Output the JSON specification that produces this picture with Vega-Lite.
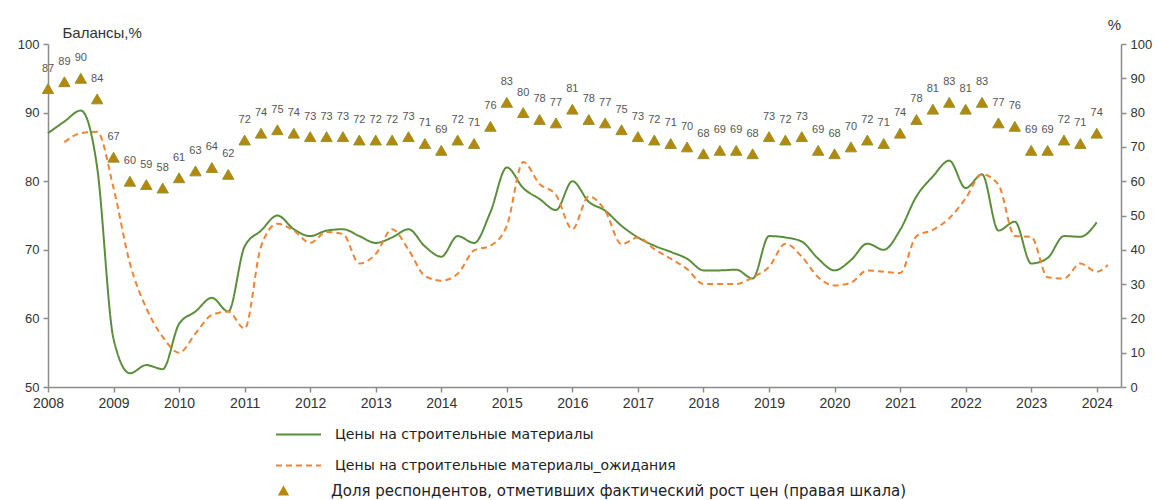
{
  "$schema": "https://vega.github.io/schema/vega-lite/v6.json",
  "width": 1073,
  "height": 343,
  "autosize": {"type": "none"},
  "padding": {"left": 48, "top": 44, "right": 37, "bottom": 113},
  "config": {
    "view": {"stroke": null},
    "font": "Liberation Sans",
    "axis": {"domainColor": "#8c8c8c", "tickColor": "#8c8c8c", "domainWidth": 1.5, "tickWidth": 1.5, "grid": false, "labelColor": "#333333", "labelFontSize": 13, "tickSize": 5, "titleColor": "#333333", "titleFontSize": 15, "titleFontWeight": "normal"},
    "legend": {"labelFont": "DejaVu Sans", "labelFontSize": 14, "labelColor": "#222222", "padding": 0, "labelLimit": 0}
  },
  "datasets": {
    "lines": [
      {"t": 2008.0, "s": "Цены на строительные материалы", "v": 87},
      {"t": 2008.25, "s": "Цены на строительные материалы", "v": 88.7},
      {"t": 2008.5, "s": "Цены на строительные материалы", "v": 90.3},
      {"t": 2008.75, "s": "Цены на строительные материалы", "v": 82},
      {"t": 2009.0, "s": "Цены на строительные материалы", "v": 57},
      {"t": 2009.25, "s": "Цены на строительные материалы", "v": 52},
      {"t": 2009.5, "s": "Цены на строительные материалы", "v": 53.2},
      {"t": 2009.75, "s": "Цены на строительные материалы", "v": 52.6},
      {"t": 2010.0, "s": "Цены на строительные материалы", "v": 59.2},
      {"t": 2010.25, "s": "Цены на строительные материалы", "v": 61},
      {"t": 2010.5, "s": "Цены на строительные материалы", "v": 63},
      {"t": 2010.75, "s": "Цены на строительные материалы", "v": 61},
      {"t": 2011.0, "s": "Цены на строительные материалы", "v": 70.5},
      {"t": 2011.25, "s": "Цены на строительные материалы", "v": 72.8},
      {"t": 2011.5, "s": "Цены на строительные материалы", "v": 75},
      {"t": 2011.75, "s": "Цены на строительные материалы", "v": 73},
      {"t": 2012.0, "s": "Цены на строительные материалы", "v": 72},
      {"t": 2012.25, "s": "Цены на строительные материалы", "v": 72.8},
      {"t": 2012.5, "s": "Цены на строительные материалы", "v": 73},
      {"t": 2012.75, "s": "Цены на строительные материалы", "v": 72},
      {"t": 2013.0, "s": "Цены на строительные материалы", "v": 71},
      {"t": 2013.25, "s": "Цены на строительные материалы", "v": 71.8},
      {"t": 2013.5, "s": "Цены на строительные материалы", "v": 73},
      {"t": 2013.75, "s": "Цены на строительные материалы", "v": 70.5},
      {"t": 2014.0, "s": "Цены на строительные материалы", "v": 69},
      {"t": 2014.25, "s": "Цены на строительные материалы", "v": 72},
      {"t": 2014.5, "s": "Цены на строительные материалы", "v": 71},
      {"t": 2014.75, "s": "Цены на строительные материалы", "v": 75.5},
      {"t": 2015.0, "s": "Цены на строительные материалы", "v": 82},
      {"t": 2015.25, "s": "Цены на строительные материалы", "v": 79},
      {"t": 2015.5, "s": "Цены на строительные материалы", "v": 77.4},
      {"t": 2015.75, "s": "Цены на строительные материалы", "v": 75.8},
      {"t": 2016.0, "s": "Цены на строительные материалы", "v": 80},
      {"t": 2016.25, "s": "Цены на строительные материалы", "v": 77},
      {"t": 2016.5, "s": "Цены на строительные материалы", "v": 75.7},
      {"t": 2016.75, "s": "Цены на строительные материалы", "v": 73.5},
      {"t": 2017.0, "s": "Цены на строительные материалы", "v": 71.8},
      {"t": 2017.25, "s": "Цены на строительные материалы", "v": 70.6},
      {"t": 2017.5, "s": "Цены на строительные материалы", "v": 69.7},
      {"t": 2017.75, "s": "Цены на строительные материалы", "v": 68.7},
      {"t": 2018.0, "s": "Цены на строительные материалы", "v": 67},
      {"t": 2018.25, "s": "Цены на строительные материалы", "v": 67},
      {"t": 2018.5, "s": "Цены на строительные материалы", "v": 67.1},
      {"t": 2018.75, "s": "Цены на строительные материалы", "v": 65.8},
      {"t": 2019.0, "s": "Цены на строительные материалы", "v": 72},
      {"t": 2019.25, "s": "Цены на строительные материалы", "v": 71.8},
      {"t": 2019.5, "s": "Цены на строительные материалы", "v": 71.2},
      {"t": 2019.75, "s": "Цены на строительные материалы", "v": 68.7},
      {"t": 2020.0, "s": "Цены на строительные материалы", "v": 67},
      {"t": 2020.25, "s": "Цены на строительные материалы", "v": 68.5},
      {"t": 2020.5, "s": "Цены на строительные материалы", "v": 70.9},
      {"t": 2020.75, "s": "Цены на строительные материалы", "v": 70},
      {"t": 2021.0, "s": "Цены на строительные материалы", "v": 72.9},
      {"t": 2021.25, "s": "Цены на строительные материалы", "v": 77.8},
      {"t": 2021.5, "s": "Цены на строительные материалы", "v": 80.7},
      {"t": 2021.75, "s": "Цены на строительные материалы", "v": 83},
      {"t": 2022.0, "s": "Цены на строительные материалы", "v": 79},
      {"t": 2022.25, "s": "Цены на строительные материалы", "v": 81},
      {"t": 2022.5, "s": "Цены на строительные материалы", "v": 72.8},
      {"t": 2022.75, "s": "Цены на строительные материалы", "v": 74.1},
      {"t": 2023.0, "s": "Цены на строительные материалы", "v": 68},
      {"t": 2023.25, "s": "Цены на строительные материалы", "v": 68.8},
      {"t": 2023.5, "s": "Цены на строительные материалы", "v": 72},
      {"t": 2023.75, "s": "Цены на строительные материалы", "v": 71.9},
      {"t": 2024.0, "s": "Цены на строительные материалы", "v": 74},
      {"t": 2008.25, "s": "Цены на строительные материалы_ожидания", "v": 85.7},
      {"t": 2008.5, "s": "Цены на строительные материалы_ожидания", "v": 87},
      {"t": 2008.75, "s": "Цены на строительные материалы_ожидания", "v": 87.2},
      {"t": 2009.0, "s": "Цены на строительные материалы_ожидания", "v": 79},
      {"t": 2009.25, "s": "Цены на строительные материалы_ожидания", "v": 68},
      {"t": 2009.5, "s": "Цены на строительные материалы_ожидания", "v": 61.5},
      {"t": 2009.75, "s": "Цены на строительные материалы_ожидания", "v": 57.3},
      {"t": 2010.0, "s": "Цены на строительные материалы_ожидания", "v": 55},
      {"t": 2010.25, "s": "Цены на строительные материалы_ожидания", "v": 57.8},
      {"t": 2010.5, "s": "Цены на строительные материалы_ожидания", "v": 60.5},
      {"t": 2010.75, "s": "Цены на строительные материалы_ожидания", "v": 61},
      {"t": 2011.0, "s": "Цены на строительные материалы_ожидания", "v": 58.5},
      {"t": 2011.25, "s": "Цены на строительные материалы_ожидания", "v": 70.5},
      {"t": 2011.5, "s": "Цены на строительные материалы_ожидания", "v": 73.8},
      {"t": 2011.75, "s": "Цены на строительные материалы_ожидания", "v": 72.8},
      {"t": 2012.0, "s": "Цены на строительные материалы_ожидания", "v": 71},
      {"t": 2012.25, "s": "Цены на строительные материалы_ожидания", "v": 72.6},
      {"t": 2012.5, "s": "Цены на строительные материалы_ожидания", "v": 72.3},
      {"t": 2012.75, "s": "Цены на строительные материалы_ожидания", "v": 68},
      {"t": 2013.0, "s": "Цены на строительные материалы_ожидания", "v": 69.4},
      {"t": 2013.25, "s": "Цены на строительные материалы_ожидания", "v": 73},
      {"t": 2013.5, "s": "Цены на строительные материалы_ожидания", "v": 70},
      {"t": 2013.75, "s": "Цены на строительные материалы_ожидания", "v": 66.2},
      {"t": 2014.0, "s": "Цены на строительные материалы_ожидания", "v": 65.5},
      {"t": 2014.25, "s": "Цены на строительные материалы_ожидания", "v": 66.5},
      {"t": 2014.5, "s": "Цены на строительные материалы_ожидания", "v": 69.9},
      {"t": 2014.75, "s": "Цены на строительные материалы_ожидания", "v": 70.6},
      {"t": 2015.0, "s": "Цены на строительные материалы_ожидания", "v": 73.5},
      {"t": 2015.25, "s": "Цены на строительные материалы_ожидания", "v": 82.8},
      {"t": 2015.5, "s": "Цены на строительные материалы_ожидания", "v": 79.6},
      {"t": 2015.75, "s": "Цены на строительные материалы_ожидания", "v": 78},
      {"t": 2016.0, "s": "Цены на строительные материалы_ожидания", "v": 73},
      {"t": 2016.25, "s": "Цены на строительные материалы_ожидания", "v": 77.8},
      {"t": 2016.5, "s": "Цены на строительные материалы_ожидания", "v": 75.7},
      {"t": 2016.75, "s": "Цены на строительные материалы_ожидания", "v": 70.8},
      {"t": 2017.0, "s": "Цены на строительные материалы_ожидания", "v": 71.8},
      {"t": 2017.25, "s": "Цены на строительные материалы_ожидания", "v": 70.1},
      {"t": 2017.5, "s": "Цены на строительные материалы_ожидания", "v": 68.7},
      {"t": 2017.75, "s": "Цены на строительные материалы_ожидания", "v": 67.2},
      {"t": 2018.0, "s": "Цены на строительные материалы_ожидания", "v": 65},
      {"t": 2018.25, "s": "Цены на строительные материалы_ожидания", "v": 65},
      {"t": 2018.5, "s": "Цены на строительные материалы_ожидания", "v": 65},
      {"t": 2018.75, "s": "Цены на строительные материалы_ожидания", "v": 66},
      {"t": 2019.0, "s": "Цены на строительные материалы_ожидания", "v": 67.5},
      {"t": 2019.25, "s": "Цены на строительные материалы_ожидания", "v": 70.9},
      {"t": 2019.5, "s": "Цены на строительные материалы_ожидания", "v": 69},
      {"t": 2019.75, "s": "Цены на строительные материалы_ожидания", "v": 66},
      {"t": 2020.0, "s": "Цены на строительные материалы_ожидания", "v": 64.8},
      {"t": 2020.25, "s": "Цены на строительные материалы_ожидания", "v": 65.2},
      {"t": 2020.5, "s": "Цены на строительные материалы_ожидания", "v": 67},
      {"t": 2020.75, "s": "Цены на строительные материалы_ожидания", "v": 66.8},
      {"t": 2021.0, "s": "Цены на строительные материалы_ожидания", "v": 66.6},
      {"t": 2021.25, "s": "Цены на строительные материалы_ожидания", "v": 72},
      {"t": 2021.5, "s": "Цены на строительные материалы_ожидания", "v": 72.9},
      {"t": 2021.75, "s": "Цены на строительные материалы_ожидания", "v": 74.6},
      {"t": 2022.0, "s": "Цены на строительные материалы_ожидания", "v": 77.5},
      {"t": 2022.25, "s": "Цены на строительные материалы_ожидания", "v": 81},
      {"t": 2022.5, "s": "Цены на строительные материалы_ожидания", "v": 79.5},
      {"t": 2022.75, "s": "Цены на строительные материалы_ожидания", "v": 72},
      {"t": 2023.0, "s": "Цены на строительные материалы_ожидания", "v": 71.9},
      {"t": 2023.25, "s": "Цены на строительные материалы_ожидания", "v": 66},
      {"t": 2023.5, "s": "Цены на строительные материалы_ожидания", "v": 65.8},
      {"t": 2023.75, "s": "Цены на строительные материалы_ожидания", "v": 68},
      {"t": 2024.0, "s": "Цены на строительные материалы_ожидания", "v": 66.8},
      {"t": 2024.17, "s": "Цены на строительные материалы_ожидания", "v": 67.8}
    ],
    "tri": [
      {"t": 2008.0, "v": 87}, {"t": 2008.25, "v": 89}, {"t": 2008.5, "v": 90}, {"t": 2008.75, "v": 84},
      {"t": 2009.0, "v": 67}, {"t": 2009.25, "v": 60}, {"t": 2009.5, "v": 59}, {"t": 2009.75, "v": 58},
      {"t": 2010.0, "v": 61}, {"t": 2010.25, "v": 63}, {"t": 2010.5, "v": 64}, {"t": 2010.75, "v": 62},
      {"t": 2011.0, "v": 72}, {"t": 2011.25, "v": 74}, {"t": 2011.5, "v": 75}, {"t": 2011.75, "v": 74},
      {"t": 2012.0, "v": 73}, {"t": 2012.25, "v": 73}, {"t": 2012.5, "v": 73}, {"t": 2012.75, "v": 72},
      {"t": 2013.0, "v": 72}, {"t": 2013.25, "v": 72}, {"t": 2013.5, "v": 73}, {"t": 2013.75, "v": 71},
      {"t": 2014.0, "v": 69}, {"t": 2014.25, "v": 72}, {"t": 2014.5, "v": 71}, {"t": 2014.75, "v": 76},
      {"t": 2015.0, "v": 83}, {"t": 2015.25, "v": 80}, {"t": 2015.5, "v": 78}, {"t": 2015.75, "v": 77},
      {"t": 2016.0, "v": 81}, {"t": 2016.25, "v": 78}, {"t": 2016.5, "v": 77}, {"t": 2016.75, "v": 75},
      {"t": 2017.0, "v": 73}, {"t": 2017.25, "v": 72}, {"t": 2017.5, "v": 71}, {"t": 2017.75, "v": 70},
      {"t": 2018.0, "v": 68}, {"t": 2018.25, "v": 69}, {"t": 2018.5, "v": 69}, {"t": 2018.75, "v": 68},
      {"t": 2019.0, "v": 73}, {"t": 2019.25, "v": 72}, {"t": 2019.5, "v": 73}, {"t": 2019.75, "v": 69},
      {"t": 2020.0, "v": 68}, {"t": 2020.25, "v": 70}, {"t": 2020.5, "v": 72}, {"t": 2020.75, "v": 71},
      {"t": 2021.0, "v": 74}, {"t": 2021.25, "v": 78}, {"t": 2021.5, "v": 81}, {"t": 2021.75, "v": 83},
      {"t": 2022.0, "v": 81}, {"t": 2022.25, "v": 83}, {"t": 2022.5, "v": 77}, {"t": 2022.75, "v": 76},
      {"t": 2023.0, "v": 69}, {"t": 2023.25, "v": 69}, {"t": 2023.5, "v": 72}, {"t": 2023.75, "v": 71},
      {"t": 2024.0, "v": 74}
    ]
  },
  "layer": [
    {
      "data": {"name": "lines"},
      "mark": {"type": "line", "interpolate": "monotone", "strokeWidth": 2},
      "encoding": {
        "x": {"field": "t", "type": "quantitative", "scale": {"domain": [2008, 2024.37], "nice": false, "zero": false},
          "axis": {"values": [2008,2009,2010,2011,2012,2013,2014,2015,2016,2017,2018,2019,2020,2021,2022,2023,2024], "format": "d", "title": null, "labelPadding": 4, "labelFlush": false, "labelFontSize": 14}},
        "y": {"field": "v", "type": "quantitative", "scale": {"domain": [50, 100], "zero": false, "nice": false},
          "axis": {"values": [50,60,70,80,90,100], "title": "Балансы,%", "titleAngle": 0, "titleX": 14, "titleY": -12, "titleAlign": "left", "titleBaseline": "middle", "labelPadding": 4}},
        "color": {"field": "s", "type": "nominal",
          "scale": {"domain": ["Цены на строительные материалы", "Цены на строительные материалы_ожидания"], "range": ["#5b8e3b", "#ee8434"]},
          "legend": {"title": null, "orient": "none", "legendX": 227, "legendY": 367, "direction": "vertical", "symbolType": "stroke", "symbolSize": 2025, "symbolStrokeWidth": 2, "labelOffset": 13, "rowPadding": -21}},
        "strokeDash": {"field": "s", "type": "nominal",
          "scale": {"domain": ["Цены на строительные материалы", "Цены на строительные материалы_ожидания"], "range": [[1, 0], [6, 4]]},
          "legend": {"title": null, "orient": "none", "legendX": 227, "legendY": 367, "direction": "vertical", "symbolType": "stroke", "symbolSize": 2025, "symbolStrokeWidth": 2, "labelOffset": 13, "rowPadding": -21}}
      }
    },
    {
      "data": {"name": "tri"},
      "encoding": {
        "x": {"field": "t", "type": "quantitative"},
        "y": {"field": "v", "type": "quantitative", "scale": {"domain": [0, 100], "zero": false, "nice": false},
          "axis": {"orient": "right", "values": [0,10,20,30,40,50,60,70,80,90,100], "title": "%", "titleAngle": 0, "titleX": -7, "titleY": -20, "titleAlign": "center", "titleBaseline": "middle", "labelPadding": 4}}
      },
      "layer": [
        {
          "mark": {"type": "point", "filled": true, "size": 130, "fill": "#b8860b", "stroke": "#8c9a2e", "strokeWidth": 1, "opacity": 1},
          "encoding": {
            "shape": {"datum": "Доля респондентов, отметивших фактический рост цен  (правая шкала)", "type": "nominal",
              "scale": {"range": ["triangle-up"]},
              "legend": {"title": null, "orient": "none", "legendX": 228, "legendY": 439, "symbolSize": 130, "symbolFillColor": "#b8860b", "symbolStrokeColor": "#8c9a2e", "symbolStrokeWidth": 1, "labelOffset": 40, "labelFontSize": 15}}
          }
        },
        {
          "mark": {"type": "text", "dy": -20, "fontSize": 11, "color": "#555555", "font": "Liberation Sans"},
          "encoding": {"text": {"field": "v", "type": "quantitative"}}
        }
      ]
    }
  ],
  "resolve": {"scale": {"y": "independent"}, "axis": {"y": "independent"}}
}
